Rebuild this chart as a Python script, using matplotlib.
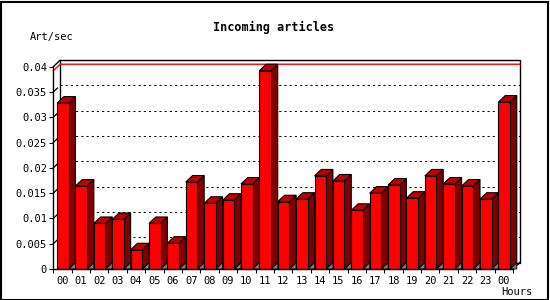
import matplotlib
matplotlib.use("Agg")
import matplotlib.pyplot as plt
from matplotlib.patches import Polygon, Rectangle
from matplotlib.ticker import FixedLocator, FixedFormatter

hours = ["00", "01", "02", "03", "04", "05", "06", "07", "08", "09", "10", "11",
         "12", "13", "14", "15", "16", "17", "18", "19", "20", "21", "22", "23", "00"]
rate = [0.0328, 0.0164, 0.0090, 0.0098, 0.0038, 0.0090, 0.0051, 0.0172, 0.0130,
        0.0136, 0.0168, 0.0392, 0.0133, 0.0138, 0.0184, 0.0174, 0.0116, 0.0150,
        0.0166, 0.0140, 0.0184, 0.0168, 0.0164, 0.0138, 0.0330]
yticks = [0, 0.005, 0.01, 0.015, 0.02, 0.025, 0.03, 0.035, 0.04]
ytick_labels = ["0", "0.005", "0.01", "0.015", "0.02", "0.025", "0.03", "0.035", "0.04"]

FONT = "DejaVu Sans Mono"
W, H = 550, 300
fig = plt.figure(figsize=(5.5, 3), dpi=100)
fig.patch.set_facecolor("white")

# front plot area in pixels
x0, x1 = 53.3, 513.0
y0, y1 = 269.0, 66.7
ax = fig.add_axes([x0 / W, (H - y0) / H, (x1 - x0) / W, (y0 - y1) / H])
n = len(rate)
ymax = 0.04
ax.set_xlim(0, n)
ax.set_ylim(0, ymax)
ax.set_facecolor("none")

# depth of the fake 3d, ~6.5 px each way
px_x = n / (x1 - x0)
px_y = ymax / (y0 - y1)
dx = 6.8 * px_x
dy = 6.5 * px_y

# back wall
ax.add_patch(Rectangle((dx, dy), n, ymax, fill=False, edgecolor="black", lw=1.0,
                       zorder=1, clip_on=False))
for v in yticks[1:-1]:
    ax.plot([dx, n + dx], [v + dy, v + dy], color="black", lw=0.75,
            linestyle=(0, (2, 3)), zorder=1, clip_on=False)
    ax.plot([0, dx * 0.6], [v, v + dy * 0.6], color="black", lw=0.9, zorder=1, clip_on=False)
# line at the maximum
top = max(rate)
ax.plot([0, dx, n + dx], [top, top + dy, top + dy], color="red", lw=1.0, zorder=1, clip_on=False)
# side wall edges
ax.plot([0, dx], [ymax, ymax + dy], color="black", lw=1.0, zorder=1, clip_on=False)
ax.plot([n, n + dx], [0, dy], color="black", lw=1.0, zorder=1, clip_on=False)

# bars
bw = 0.63
for i, v in enumerate(rate):
    l = i + 0.5 - bw / 2 + 0.02
    r = l + bw
    ax.add_patch(Polygon([(r, 0), (r + dx, dy), (r + dx, 0)], closed=True,
                         facecolor="#808080", edgecolor="black", lw=0.6, zorder=2, clip_on=False))
    ax.add_patch(Polygon([(r, 0), (r + dx, dy), (r + dx, v + dy), (r, v)], closed=True,
                         facecolor="#800000", edgecolor="black", lw=0.8, zorder=3, clip_on=False))
    ax.add_patch(Polygon([(l, v), (l + dx, v + dy), (r + dx, v + dy), (r, v)], closed=True,
                         facecolor="#c00000", edgecolor="black", lw=0.8, zorder=3, clip_on=False))
    ax.add_patch(Rectangle((l, 0), bw, v, facecolor="#ff0000", edgecolor="black",
                           lw=0.8, zorder=4, clip_on=False))

for s in ["top", "right"]:
    ax.spines[s].set_visible(False)
for s in ["left", "bottom"]:
    ax.spines[s].set_linewidth(1.0)
    ax.spines[s].set_zorder(5)

ax.yaxis.set_major_locator(FixedLocator(yticks))
ax.yaxis.set_major_formatter(FixedFormatter(ytick_labels))
ax.tick_params(axis="y", length=3, width=0.8, pad=1.5, labelsize=7.5)
ax.xaxis.set_major_locator(FixedLocator(range(n + 1)))
ax.xaxis.set_major_formatter(FixedFormatter([""] * (n + 1)))
ax.xaxis.set_minor_locator(FixedLocator([i + 0.5 for i in range(n)]))
ax.xaxis.set_minor_formatter(FixedFormatter(hours))
ax.tick_params(axis="x", which="major", length=3, width=0.8)
ax.tick_params(axis="x", which="minor", length=0, pad=5, labelsize=7.5)
for t in ax.get_xticklabels(minor=True) + ax.get_yticklabels():
    t.set_family(FONT)

fig.text(274 / W, 1 - 27 / H, "Incoming articles", ha="center", va="center",
         family=FONT, fontweight="bold", fontsize=8.5)
fig.text(30 / W, 1 - 37 / H, "Art/sec", ha="left", va="center", family=FONT, fontsize=7.5)
fig.text(533 / W, 1 - 292 / H, "Hours", ha="right", va="center", family=FONT, fontsize=7.5)

# frame round the picture
fig.add_artist(Rectangle((0.5 / W, 0.5 / H), 1 - 2.5 / W, 1 - 2.5 / H, transform=fig.transFigure,
                         fill=False, edgecolor="black", lw=1.5))

fig.savefig("out.png", dpi=100)
